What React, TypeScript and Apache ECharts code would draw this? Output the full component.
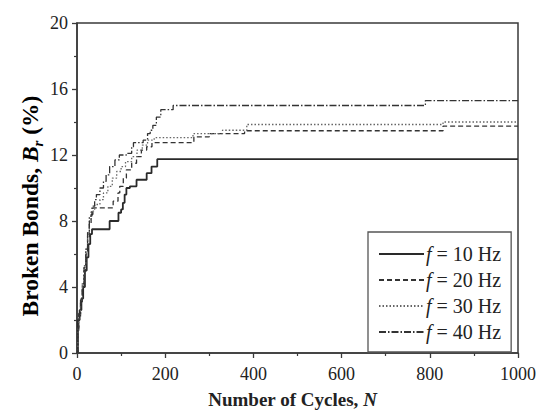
import React, { useEffect, useRef } from "react";
import * as echarts from "echarts";

const FONT = '"Liberation Serif", "Times New Roman", serif';

const seriesNames = ["f = 10 Hz", "f = 20 Hz", "f = 30 Hz", "f = 40 Hz"];

const f10: number[][] = [
  [0, 0], [2, 2.0], [6, 2.6], [10, 3.3], [14, 4.0], [18, 5.0], [22, 5.8], [26, 6.6], [30, 7.2], [34, 7.5],
  [74, 8.0], [94, 8.5], [100, 8.7], [104, 9.1], [108, 9.6], [112, 10.0], [120, 10.1], [135, 10.5],
  [158, 10.9], [169, 11.3], [182, 11.75], [1000, 11.75],
];

const f20: number[][] = [
  [0, 0], [2, 1.3], [4, 2.1], [8, 3.0], [12, 4.0], [16, 5.0], [20, 6.0], [24, 7.0], [28, 7.8], [32, 8.4],
  [36, 8.8], [82, 9.2], [93, 9.7], [97, 10.1], [105, 10.6], [112, 11.1], [124, 11.5], [135, 11.9],
  [146, 12.3], [158, 12.5], [170, 12.75], [265, 13.1], [300, 13.3], [380, 13.47], [830, 13.75], [1000, 13.75],
];

const f30: number[][] = [
  [0, 0], [2, 1.5], [4, 2.3], [8, 3.2], [12, 4.3], [16, 5.3], [20, 6.3], [24, 7.2], [28, 8.0], [32, 8.6],
  [40, 9.0], [52, 9.3], [60, 9.7], [70, 10.1], [80, 10.6], [90, 11.0], [100, 11.3], [110, 11.6],
  [124, 11.9], [136, 12.3], [148, 12.6], [160, 12.9], [175, 13.05], [263, 13.3], [330, 13.5],
  [385, 13.85], [830, 14.0], [1000, 14.0],
];

const f40: number[][] = [
  [0, 0], [2, 1.5], [4, 2.4], [8, 3.2], [12, 4.2], [16, 5.2], [20, 6.3], [24, 7.3], [28, 8.3], [34, 8.9],
  [40, 9.3], [44, 9.6], [52, 10.0], [60, 10.4], [66, 10.8], [74, 11.3], [86, 11.7], [96, 12.0],
  [112, 12.1], [124, 12.5], [128, 12.75], [150, 12.9], [160, 13.3], [166, 13.5], [172, 13.8],
  [180, 14.3], [190, 14.75], [218, 15.0], [790, 15.3], [1000, 15.3],
];

const xTicks = { min: 0, max: 1000, interval: 200 };
const yTicks = { min: 0, max: 20, interval: 4 };

export default function App() {
  const ref = useRef<HTMLDivElement>(null);
  useEffect(() => {
    if (!ref.current) return;
    const chart = echarts.init(ref.current, undefined, { renderer: "svg" });
    const mk = (name: string, data: number[][], color: string, width: number, type: any) => ({
      name,
      type: "line",
      step: "end",
      data,
      symbol: "none",
      showSymbol: false,
      lineStyle: { color, width, type },
      itemStyle: { color },
    });
    chart.setOption({
      animation: false,
      backgroundColor: "#ffffff",
      textStyle: { fontFamily: FONT },
      grid: {
        left: 77, right: 19, top: 23, bottom: 57,
        outerBoundsMode: "none",
        containLabel: false,
        show: true, borderColor: "#3a3a3a", borderWidth: 1.5, backgroundColor: "transparent",
      },
      xAxis: {
        type: "value",
        ...xTicks,
        name: "{b|Number of Cycles, }{bi|N}",
        nameLocation: "middle",
        nameGap: 37,
        nameTextStyle: {
          padding: [0, 10, 0, 0],
          rich: {
            b: { fontFamily: FONT, fontWeight: "bold", fontSize: 19, color: "#222", lineHeight: 19 },
            bi: { fontFamily: FONT, fontWeight: "bold", fontStyle: "italic", fontSize: 19, color: "#222", lineHeight: 19 },
          },
        },
        axisLine: { show: true, lineStyle: { color: "#3a3a3a", width: 1.5 } },
        axisTick: { show: true, length: 5, lineStyle: { color: "#3a3a3a", width: 1.3 } },
        minorTick: { show: true, splitNumber: 2, length: 3, lineStyle: { color: "#3a3a3a", width: 1.2 } },
        splitLine: { show: false },
        axisLabel: {
          fontFamily: FONT, fontSize: 18, color: "#222", margin: 12,
          formatter: (v: number) => String(v),
        },
      },
      yAxis: {
        type: "value",
        ...yTicks,
        axisLine: { show: true, lineStyle: { color: "#3a3a3a", width: 1.5 } },
        axisTick: { show: true, length: 5, lineStyle: { color: "#3a3a3a", width: 1.3 } },
        minorTick: { show: true, splitNumber: 2, length: 3, lineStyle: { color: "#3a3a3a", width: 1.2 } },
        splitLine: { show: false },
        axisLabel: { fontFamily: FONT, fontSize: 18, color: "#222", margin: 9 },
      },
      legend: {
        show: true,
        orient: "vertical",
        left: 368,
        top: 232,
        padding: [12, 10, 10, 10],
        itemWidth: 45,
        itemHeight: 14,
        itemGap: 6,
        borderColor: "#555",
        borderWidth: 1.3,
        backgroundColor: "#ffffff",
        selectedMode: false,
        itemStyle: { color: "transparent", borderColor: "transparent", borderWidth: 0, opacity: 0 },
        formatter: (name: string) => "{i|f}{n|" + name.slice(1) + "}",
        textStyle: {
          padding: [0, 0, 0, -3],
          rich: {
            i: { fontFamily: FONT, fontStyle: "italic", fontSize: 20, color: "#222", lineHeight: 18 },
            n: { fontFamily: FONT, fontSize: 20, color: "#222", lineHeight: 18 },
          },
        },
        data: seriesNames,
      },
      graphic: [
        {
          type: "text",
          x: 30,
          y: 206,
          rotation: Math.PI / 2,
          style: {
            text: "{b|Broken Bonds, }{bi|B}{s|r}{b| (%)}",
            align: "center",
            verticalAlign: "middle",
            rich: {
              b: { fontFamily: FONT, fontWeight: "bold", fontSize: 23.5, color: "#222", lineHeight: 30 },
              bi: { fontFamily: FONT, fontWeight: "bold", fontStyle: "italic", fontSize: 23.5, color: "#222", lineHeight: 30 },
              s: { fontFamily: FONT, fontWeight: "bold", fontStyle: "italic", fontSize: 15, color: "#222", lineHeight: 30, verticalAlign: "bottom" },
            },
          },
        },
      ],
      series: [
        mk(seriesNames[0], f10, "#2a2a2a", 1.8, "solid"),
        mk(seriesNames[1], f20, "#333333", 1.3, [5, 3]),
        mk(seriesNames[2], f30, "#666666", 1.3, [1.5, 2]),
        mk(seriesNames[3], f40, "#333333", 1.3, [7, 2, 1.5, 2]),
      ],
    });
    return () => chart.dispose();
  }, []);
  return (
    <div
      ref={ref}
      style={{ position: "fixed", left: 0, top: 0, width: 537, height: 410 }}
    />
  );
}
